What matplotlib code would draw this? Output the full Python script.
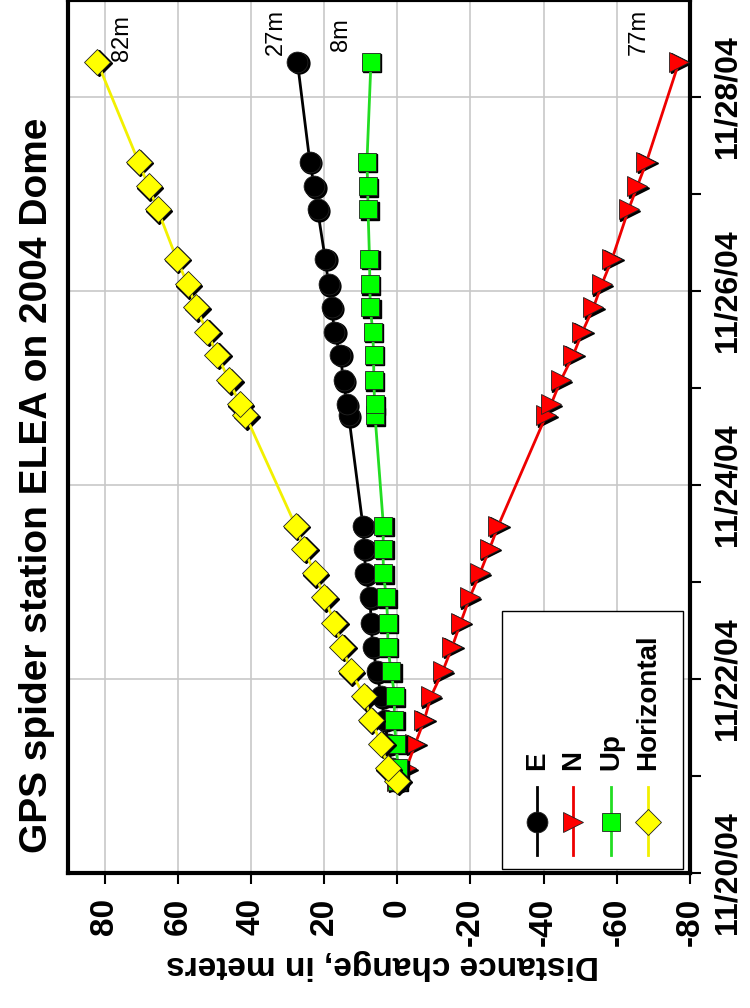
#!/usr/bin/env python3

import pandas as pd
import matplotlib
matplotlib.use('Agg')
import matplotlib.pyplot as plt
import matplotlib.dates as mdates
from matplotlib.transforms import offset_copy
from matplotlib.patches import Rectangle

# sample times (GPS fixes) and displacement in meters
times = ['2004-11-20 22:50', '2004-11-21 01:55', '2004-11-21 07:55',
         '2004-11-21 13:55', '2004-11-21 19:40', '2004-11-22 01:55',
         '2004-11-22 07:55', '2004-11-22 13:55', '2004-11-22 20:10',
         '2004-11-23 02:10', '2004-11-23 08:10', '2004-11-23 13:55',
         '2004-11-24 17:15', '2004-11-24 19:55', '2004-11-25 01:55',
         '2004-11-25 08:10', '2004-11-25 13:55', '2004-11-25 19:55',
         '2004-11-26 01:40', '2004-11-26 07:55', '2004-11-26 20:10',
         '2004-11-27 01:55', '2004-11-27 07:55', '2004-11-28 08:40']

east = [0.0, 1.5, 2.5, 3.5, 4.4, 5.6, 6.7, 7.2, 7.4, 8.7, 9.0, 9.4,
        13.3, 13.8, 14.7, 15.6, 17.2, 17.9, 18.8, 19.7, 21.8, 22.7, 23.9, 27.3]
north = [0.0, -2.5, -4.9, -7.4, -9.2, -12.4, -15.0, -17.3, -19.8, -22.6, -25.2, -27.6,
         -40.7, -42.0, -44.7, -48.1, -50.6, -53.6, -55.9, -58.7, -63.2, -65.6, -68.1, -77.0]
up = [0.0, -0.2, 0.3, 0.9, 0.7, 1.7, 2.6, 2.6, 3.0, 3.8, 3.9, 3.8,
      6.1, 6.2, 6.4, 6.5, 6.7, 7.4, 7.5, 7.6, 8.0, 8.1, 8.3, 7.2]
horiz = [0.0, 2.6, 4.4, 7.2, 9.0, 12.7, 15.0, 17.2, 19.9, 22.6, 25.5, 27.8,
         41.5, 43.0, 46.0, 49.2, 52.0, 55.0, 57.3, 60.3, 65.5, 68.0, 70.7, 82.0]

labels = ['E', 'N', 'Up', 'Horizontal']
end_labels = ['27m', '77m', '8m', '82m']

plt.rcParams['font.family'] = ['Liberation Sans', 'DejaVu Sans']
plt.rcParams['font.weight'] = 'bold'
plt.rcParams['axes.unicode_minus'] = False

t = pd.to_datetime(times)

fig = plt.figure(figsize=(7.5, 10.08), dpi=100)
ax = fig.add_axes([0.0907, 0.134, 0.8293, 0.866])

# (values, line colour, marker face, marker, size, label offset px)
styles = [
    (east,  'black',   'black',   'o', 15, (-22, 30)),
    (north, '#ee0000', '#ff0000', '>', 15, (-40, 30)),
    (up,    '#22dd22', '#00ff00', 's', 13.5, (-30, 27)),
    (horiz, '#f2f000', '#ffff00', 'D', 13, (25, 24)),
]

shadow = offset_copy(ax.transData, fig=fig, x=1.5, y=-1.5, units='dots')
for (vals, lc, fc, m, ms, off), lab in zip(styles, end_labels):
    ax.plot(vals, t, ls='none', marker=m, ms=ms, color='black',
            transform=shadow, zorder=3)
    ax.plot(vals, t, color=lc, lw=2, marker=m, ms=ms, mfc=fc,
            mec='#222222', mew=0.6, zorder=3)
    ax.annotate(lab, xy=(vals[-1], t[-1]), xytext=off,
                textcoords='offset pixels', rotation=90, ha='center',
                va='center', fontsize=17, fontweight='normal')

ax.set_xlim(90, -80)
ax.set_ylim(pd.Timestamp('2004-11-20'), pd.Timestamp('2004-11-29'))
ax.set_xticks(range(-80, 81, 20))
ax.yaxis.tick_right()
ax.yaxis.set_major_locator(mdates.DayLocator(bymonthday=[20, 22, 24, 26, 28]))
ax.yaxis.set_minor_locator(mdates.DayLocator(bymonthday=[21, 23, 25, 27]))
ax.yaxis.set_major_formatter(mdates.DateFormatter('%m/%d/%y'))

ax.tick_params(axis='x', labelrotation=90, labelsize=24, length=8,
               width=1.5, pad=10)
ax.tick_params(axis='y', which='both', right=True, left=False,
               length=8, width=1.5)
ax.tick_params(axis='y', which='major', labelrotation=90, labelsize=23, pad=8)
plt.setp(ax.get_yticklabels(), va='center')

ax.grid(True, which='major', color='#c8c8c8', lw=1.2)
ax.set_axisbelow(True)
for s in ax.spines.values():
    s.set_linewidth(3)

fig.text(0.05, 0.519, 'GPS spider station ELEA on 2004 Dome', rotation=90,
         ha='center', va='center', fontsize=28)
fig.text(0.51, 0.043, 'Distance change, in meters', rotation=180,
         ha='center', va='center', fontsize=24)

# legend drawn by hand so entries can be rotated like the rest of the chart
ax.add_patch(Rectangle((0.698, 0.005), 0.291, 0.295, transform=ax.transAxes,
                       fc='white', ec='black', lw=1, zorder=5))
leg_x = [0.754, 0.812, 0.873, 0.932]
for xi, (vals, lc, fc, m, ms, off), lab in zip(leg_x, styles, labels):
    ax.plot([xi, xi], [0.021, 0.098], transform=ax.transAxes, color=lc,
            lw=2, zorder=6)
    ax.plot([xi], [0.0586], transform=ax.transAxes, ls='none', marker=m,
            ms=ms, mfc=fc, mec='#222222', mew=0.6, zorder=7)
    ax.text(xi, 0.118, lab, transform=ax.transAxes, rotation=90,
            ha='center', va='bottom', fontsize=20, zorder=7)

plt.savefig('out.png')
